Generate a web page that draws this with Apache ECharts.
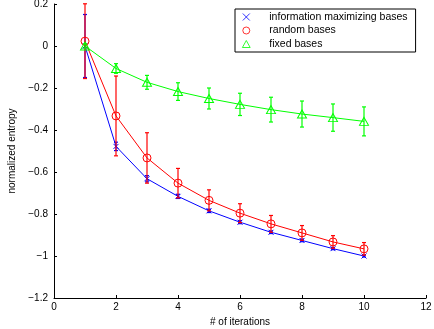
<!DOCTYPE html>
<html>
<head>
<meta charset="utf-8">
<script src="https://cdn.jsdelivr.net/npm/echarts@6/dist/echarts.min.js"></script>
<style>
  html, body { margin: 0; padding: 0; background: #fff; }
  #chart { width: 434px; height: 329px; }
</style>
</head>
<body>
<div id="chart"></div>
<script>
// iterations on x
const iterations = [1, 2, 3, 4, 5, 6, 7, 8, 9, 10]

// normalized entropy
const infoMax = [0, -0.478, -0.632, -0.716, -0.785, -0.839, -0.887, -0.926, -0.965, -1.0]
const infoMaxErr = [0.15, 0.02, 0.015, 0.01, 0.008, 0.007, 0.006, 0.006, 0.005, 0.005]
const randomBases = [0.023, -0.333, -0.533, -0.653, -0.735, -0.796, -0.847, -0.89, -0.933, -0.966]
const randomErr = [0.178, 0.19, 0.12, 0.07, 0.05, 0.045, 0.04, 0.035, 0.03, 0.03]
const fixedBases = [0, -0.107, -0.173, -0.217, -0.25, -0.278, -0.303, -0.324, -0.341, -0.359]
const fixedErr = [0.01, 0.023, 0.033, 0.042, 0.05, 0.053, 0.059, 0.062, 0.065, 0.069]

const seriesNames = ['information maximizing bases', 'random bases', 'fixed bases']
const FONT = '"Liberation Sans", Arial, sans-serif'

// marker shapes (outlined, matlab style)
const X_MARK = 'path://M0,0L10,10M10,0L0,10'
const CIRCLE_MARK = 'path://M0,5A5,5 0 1 1 10,5A5,5 0 1 1 0,5Z'
const TRI_MARK = 'path://M5,0L10,9L0,9Z'

const chart = echarts.init(document.getElementById('chart'))

// vertical error bar with small caps
function errorBar(color) {
  return function (params, api) {
    const x = api.value(0)
    const y = api.value(1)
    const e = api.value(2)
    const top = api.coord([x, y + e])
    const bot = api.coord([x, y - e])
    const cap = 2
    const style = { stroke: color, lineWidth: 1.2 }
    return {
      type: 'group',
      children: [
        { type: 'line', shape: { x1: top[0], y1: top[1], x2: bot[0], y2: bot[1] }, style },
        { type: 'line', shape: { x1: top[0] - cap, y1: top[1], x2: top[0] + cap, y2: top[1] }, style },
        { type: 'line', shape: { x1: bot[0] - cap, y1: bot[1], x2: bot[0] + cap, y2: bot[1] }, style }
      ]
    }
  }
}

const pairs = (ys) => iterations.map((x, i) => [x, ys[i]])
const triples = (ys, es) => iterations.map((x, i) => [x, ys[i], es[i]])

const defs = [
  { name: seriesNames[0], color: '#0000ff', values: infoMax, errs: infoMaxErr, symbol: X_MARK, size: 5 },
  { name: seriesNames[1], color: '#ff0000', values: randomBases, errs: randomErr, symbol: CIRCLE_MARK, size: 8 },
  { name: seriesNames[2], color: '#00ff00', values: fixedBases, errs: fixedErr, symbol: TRI_MARK, size: [9, 8] }
]

const series = []
defs.forEach((d, i) => {
  series.push({
    type: 'custom',
    name: d.name + ' err',
    renderItem: errorBar(d.color),
    data: triples(d.values, d.errs),
    z: 2 + i * 2,
    silent: true
  })
  series.push({
    type: 'line',
    name: d.name,
    data: pairs(d.values),
    symbol: d.symbol,
    symbolSize: d.size,
    showAllSymbol: true,
    lineStyle: { color: d.color, width: 1 },
    itemStyle: { color: 'rgba(0,0,0,0)', borderColor: d.color, borderWidth: 1 },
    emphasis: { disabled: true },
    z: 3 + i * 2
  })
})

const minusSign = (v) => String(v).replace('-', '\u2212')

const option = {
  animation: false,
  textStyle: { fontFamily: FONT },
  grid: { left: 54, right: 8, top: 4, bottom: 31, containLabel: false, outerBoundsMode: 'none' },
  legend: {
    left: 235,
    top: 9,
    orient: 'vertical',
    borderColor: '#000',
    borderWidth: 1,
    padding: [2, 8, 2, 7],
    itemGap: 1.5,
    itemWidth: 36,
    itemHeight: 7,
    selectedMode: false,
    textStyle: { fontFamily: FONT, fontSize: 10.5, color: '#000', lineHeight: 12 },
    data: [
      { name: seriesNames[0], icon: X_MARK, itemStyle: { borderWidth: 0.8 } },
      { name: seriesNames[1], icon: CIRCLE_MARK, itemStyle: { borderWidth: 0.8 } },
      { name: seriesNames[2], icon: TRI_MARK, itemStyle: { borderWidth: 0.8 } }
    ]
  },
  xAxis: {
    type: 'value',
    min: 0,
    max: 12,
    interval: 2,
    name: '# of iterations',
    nameLocation: 'middle',
    nameGap: 16,
    nameTextStyle: { fontFamily: FONT, fontSize: 10, color: '#000' },
    axisLine: { onZero: false, lineStyle: { color: '#000', width: 1 } },
    axisTick: { inside: true, length: 3, lineStyle: { color: '#000' } },
    axisLabel: { fontFamily: FONT, fontSize: 10, color: '#000', margin: 4 },
    splitLine: { show: false }
  },
  yAxis: {
    type: 'value',
    min: -1.2,
    max: 0.2,
    interval: 0.2,
    name: 'normalized entropy',
    nameLocation: 'middle',
    nameGap: 37,
    nameTextStyle: { fontFamily: FONT, fontSize: 10, color: '#000' },
    axisLine: { show: true, onZero: false, lineStyle: { color: '#000', width: 1 } },
    axisTick: { show: true, inside: true, length: 3, lineStyle: { color: '#000' } },
    axisLabel: { fontFamily: FONT, fontSize: 10, color: '#000', margin: 6, formatter: minusSign },
    splitLine: { show: false }
  },
  series
}

chart.setOption(option)
</script>
</body>
</html>
